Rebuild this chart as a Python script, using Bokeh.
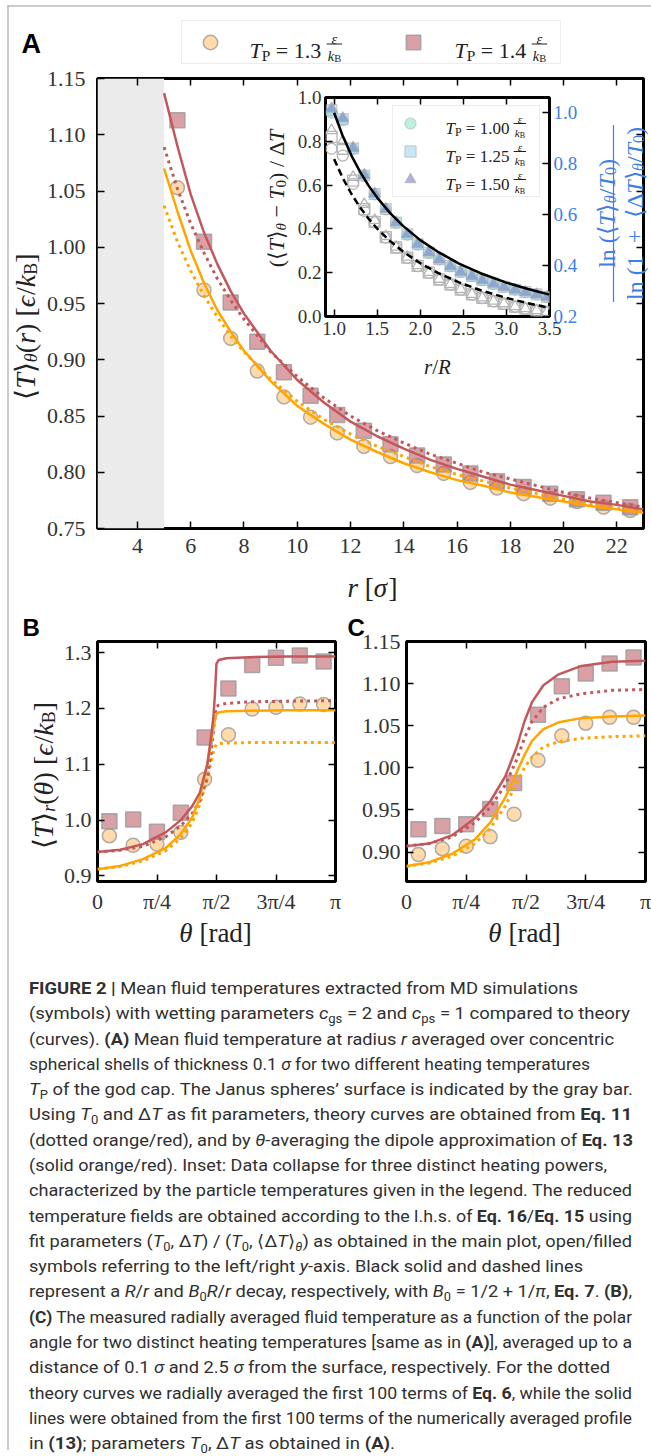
import math
from bokeh.plotting import figure
from bokeh.models import (Range1d, LinearAxis, FixedTicker, Label, Legend, LegendItem,
                          BoxAnnotation, Div)
from bokeh.layouts import column, row
from bokeh.embed import file_html
from bokeh.resources import INLINE

PI = math.pi
NAN = float("nan")
SERIF = "Liberation Serif"
SANS = "Liberation Sans"
ORANGE = "#ffa500"
RED = "#c2585c"
CIRC_FILL = "#ffc880"
SQ_FILL = "#c0606a"
EDGE = "#9a9a9a"
BLUE = "#3d7fe6"
TXT = "#222222"

# ---------------- data: panel A ----------------
r_sim = [5.5, 6.5, 7.5, 8.5, 9.5, 10.5, 11.5, 12.5, 13.5, 14.5, 15.5, 16.5, 17.5, 18.5, 19.5, 20.5, 21.5, 22.5]
T_sim_13 = [1.053, 0.962, 0.919, 0.890, 0.867, 0.849, 0.835, 0.823, 0.814, 0.806, 0.799, 0.791, 0.786, 0.781, 0.777, 0.774, 0.769, 0.766]
T_sim_14 = [1.113, 1.005, 0.951, 0.916, 0.889, 0.868, 0.851, 0.837, 0.825, 0.815, 0.807, 0.799, 0.792, 0.787, 0.781, 0.776, 0.773, 0.769]

r_theory = [5.0, 5.5, 6.0, 6.5, 7.0, 7.5, 8.0, 9.0, 10.0, 11.0, 12.0, 13.0, 14.0, 15.0, 16.0, 17.0, 18.0, 19.0, 20.0, 21.0, 22.0, 23.0]
T14_solid = [1.137, 1.090, 1.047, 1.013, 0.985, 0.961, 0.941, 0.908, 0.882, 0.862, 0.845, 0.832, 0.821, 0.811, 0.803, 0.796, 0.789, 0.784, 0.779, 0.774, 0.771, 0.767]
T14_dotted = [1.089, 1.052, 1.021, 0.995, 0.972, 0.953, 0.936, 0.907, 0.885, 0.866, 0.850, 0.837, 0.826, 0.816, 0.808, 0.800, 0.794, 0.788, 0.782, 0.777, 0.773, 0.769]
T13_solid = [1.070, 1.032, 0.997, 0.968, 0.944, 0.925, 0.908, 0.881, 0.859, 0.843, 0.829, 0.818, 0.808, 0.800, 0.793, 0.788, 0.782, 0.778, 0.774, 0.770, 0.767, 0.764]
T13_dotted = [1.037, 1.005, 0.979, 0.957, 0.938, 0.921, 0.907, 0.883, 0.863, 0.847, 0.834, 0.823, 0.814, 0.805, 0.798, 0.792, 0.786, 0.781, 0.776, 0.772, 0.768, 0.765]
surface_band = [2.5, 5.0]

A_xticks = [4, 6, 8, 10, 12, 14, 16, 18, 20, 22]
A_yticks = [0.75, 0.80, 0.85, 0.90, 0.95, 1.00, 1.05, 1.10, 1.15]

# ---------------- data: inset ----------------
x_inset = [0.97, 1.1, 1.22, 1.35, 1.47, 1.6, 1.72, 1.85, 1.97, 2.1, 2.22, 2.35, 2.47, 2.6, 2.72, 2.85, 2.97, 3.1, 3.22, 3.35, 3.47]
filled_100 = [1.000, 0.970, 0.858, 0.752, 0.679, 0.620, 0.567, 0.521, 0.482, 0.449, 0.423, 0.397, 0.375, 0.358, 0.342, 0.328, 0.316, 0.305, 0.295, 0.286, 0.276]
filled_125 = [1.010, 0.975, 0.860, 0.754, 0.681, 0.622, 0.569, 0.523, 0.484, 0.451, 0.425, 0.398, 0.376, 0.359, 0.343, 0.329, 0.317, 0.306, 0.296, 0.287, 0.277]
filled_150 = [1.016, 0.978, 0.862, 0.755, 0.682, 0.622, 0.569, 0.523, 0.484, 0.451, 0.424, 0.397, 0.375, 0.358, 0.342, 0.328, 0.316, 0.305, 0.295, 0.286, 0.276]
open_100 = [0.766, 0.735, 0.605, 0.482, 0.430, 0.360, 0.314, 0.268, 0.230, 0.199, 0.168, 0.145, 0.122, 0.100, 0.084, 0.069, 0.057, 0.044, 0.035, 0.026, 0.018]
open_125 = [0.820, 0.766, 0.620, 0.490, 0.432, 0.362, 0.315, 0.269, 0.231, 0.200, 0.169, 0.146, 0.123, 0.101, 0.085, 0.070, 0.058, 0.045, 0.036, 0.027, 0.019]
open_150 = [0.850, 0.800, 0.636, 0.513, 0.440, 0.366, 0.318, 0.272, 0.233, 0.202, 0.171, 0.147, 0.124, 0.102, 0.086, 0.071, 0.059, 0.046, 0.037, 0.028, 0.020]
x_decay = [1.0, 1.1, 1.2, 1.3, 1.4, 1.5, 1.65, 1.8, 2.0, 2.2, 2.45, 2.7, 3.0, 3.25, 3.5]
R_over_r = [1.0, 0.909, 0.833, 0.769, 0.714, 0.667, 0.606, 0.556, 0.5, 0.455, 0.408, 0.370, 0.333, 0.308, 0.286]
B0R_over_r = [0.818, 0.744, 0.682, 0.629, 0.584, 0.545, 0.496, 0.455, 0.409, 0.372, 0.334, 0.303, 0.273, 0.252, 0.234]
inset_xticks = [1.0, 1.5, 2.0, 2.5, 3.0, 3.5]
inset_lticks = [0.0, 0.2, 0.4, 0.6, 0.8, 1.0]
inset_rticks = [0.2, 0.4, 0.6, 0.8, 1.0]

# ---------------- data: panels B, C ----------------
theta_sim = [0.157, 0.471, 0.785, 1.100, 1.414, 1.728, 2.042, 2.356, 2.670, 2.985]
B_13 = [0.972, 0.955, 0.957, 0.978, 1.073, 1.153, 1.199, 1.202, 1.208, 1.207]
B_14 = [0.998, 1.001, 0.979, 1.013, 1.148, 1.236, 1.278, 1.291, 1.295, 1.284]
C_13 = [0.897, 0.904, 0.907, 0.918, 0.945, 1.009, 1.038, 1.053, 1.060, 1.060]
C_14 = [0.927, 0.931, 0.933, 0.951, 0.982, 1.063, 1.097, 1.112, 1.124, 1.131]

theta_B = [0.0, 0.3, 0.6, 0.9, 1.1, 1.25, 1.35, 1.45, 1.5, 1.53, 1.55, 1.57, 1.6, 1.7, 2.0, 2.5, 3.1416]
B14_solid = [0.943, 0.947, 0.957, 0.978, 1.000, 1.025, 1.049, 1.100, 1.150, 1.185, 1.225, 1.280, 1.287, 1.290, 1.292, 1.293, 1.293]
B14_dotted = [0.943, 0.946, 0.953, 0.970, 0.990, 1.012, 1.035, 1.075, 1.120, 1.160, 1.185, 1.203, 1.206, 1.209, 1.212, 1.213, 1.214]
B13_solid = [0.912, 0.918, 0.930, 0.950, 0.975, 1.005, 1.040, 1.100, 1.140, 1.165, 1.180, 1.190, 1.193, 1.195, 1.196, 1.197, 1.197]
B13_dotted = [0.912, 0.917, 0.927, 0.945, 0.968, 0.995, 1.028, 1.075, 1.105, 1.122, 1.131, 1.136, 1.137, 1.138, 1.139, 1.139, 1.139]

theta_C = [0.0, 0.3, 0.6, 0.9, 1.1, 1.3, 1.45, 1.55, 1.65, 1.8, 2.0, 2.3, 2.7, 3.1416]
C14_solid = [0.907, 0.910, 0.920, 0.940, 0.960, 0.990, 1.025, 1.055, 1.078, 1.098, 1.111, 1.121, 1.126, 1.127]
C14_dotted = [0.907, 0.910, 0.918, 0.935, 0.953, 0.980, 1.010, 1.035, 1.055, 1.072, 1.082, 1.088, 1.092, 1.093]
C13_solid = [0.883, 0.888, 0.898, 0.915, 0.935, 0.965, 0.995, 1.015, 1.032, 1.046, 1.054, 1.059, 1.061, 1.062]
C13_dotted = [0.883, 0.887, 0.895, 0.910, 0.928, 0.955, 0.982, 1.000, 1.013, 1.025, 1.031, 1.035, 1.037, 1.038]

theta_ticks = [0.0, PI / 4, PI / 2, 3 * PI / 4, PI]
theta_labels = ["0", "π/4", "π/2", "3π/4", "π"]
B_yticks = [0.9, 1.0, 1.1, 1.2, 1.3]
C_yticks = [0.90, 0.95, 1.00, 1.05, 1.10, 1.15]

# ---------------- text metrics helpers ----------------
W_REG = {' ': 250, '(': 333, ')': 333, '[': 333, ']': 333, '/': 278, '.': 250, '=': 564, '+': 564,
         '−': 564, ',': 250, '⟨': 390, '⟩': 390, 'ϵ': 440, 'θ': 500, 'σ': 550, 'Δ': 612, 'π': 550,
         'l': 278, 'n': 500, 'r': 333, 'a': 444, 'd': 500, 'P': 556, 'B': 667, 'R': 667, 'T': 611, 'k': 500}
W_IT = {'T': 556, 'r': 389, 'k': 444, 'R': 611, 'B': 611, 'θ': 500, 'ϵ': 440, 'σ': 550}


def text_width(s, size, italic=False):
    tot = 0
    for ch in s:
        if italic and ch in W_IT:
            tot += W_IT[ch]
        else:
            tot += W_REG.get(ch, 500)
    return tot * size / 1000.0


# ---------------- plot helpers ----------------
def style_axis(ax, ticks, labels, fs, show=True, color="#333333", standoff=8):
    ax.ticker = FixedTicker(ticks=ticks, minor_ticks=[])
    ax.major_label_overrides = {t: (l if show else "") for t, l in zip(ticks, labels)}
    ax.major_tick_in = 7
    ax.major_tick_out = 0
    ax.major_tick_line_color = "black"
    ax.major_tick_line_width = 1.5
    ax.minor_tick_line_color = None
    ax.axis_line_color = None
    ax.major_label_standoff = standoff if show else 0
    ax.major_label_text_font = SERIF
    ax.major_label_text_font_size = fs
    ax.major_label_text_color = color


def make_fig(w, h, xr, yr, bl, br, bt, bb, **kw):
    p = figure(width=w, height=h, x_range=Range1d(*xr), y_range=Range1d(*yr),
               output_backend="svg", toolbar_location=None,
               min_border_left=bl, min_border_right=br, min_border_top=bt, min_border_bottom=bb, **kw)
    p.grid.visible = False
    p.outline_line_color = "black"
    p.outline_line_width = 3
    p.outline_line_alpha = 1
    p.background_fill_color = "white"
    return p


def four_axes(p, xt, xl, yt, yl, fs, xs=8, ys=8):
    style_axis(p.xaxis[0], xt, xl, fs, standoff=xs)
    style_axis(p.yaxis[0], yt, yl, fs, standoff=ys)
    top = LinearAxis()
    style_axis(top, xt, xl, fs, show=False)
    p.add_layout(top, "above")
    rgt = LinearAxis()
    style_axis(rgt, yt, yl, fs, show=False)
    p.add_layout(rgt, "right")


CIRC_STYLE = dict(marker="circle", size=14, fill_color=CIRC_FILL, fill_alpha=0.65,
                  line_color=EDGE, line_alpha=0.8, line_width=1.5)
SQ_STYLE = dict(marker="square", size=15, fill_color=SQ_FILL, fill_alpha=0.6,
                line_color=EDGE, line_alpha=0.8, line_width=1.5)
F100_STYLE = dict(marker="circle", size=11, fill_color="#8fe8cc", fill_alpha=0.6, line_color="#aaaaaa", line_alpha=0.6)
F125_STYLE = dict(marker="square", size=11, fill_color="#9fd6ea", fill_alpha=0.6, line_color="#aaaaaa", line_alpha=0.6)
F150_STYLE = dict(marker="triangle", size=12, fill_color="#7b7fc4", fill_alpha=0.6, line_color="#aaaaaa", line_alpha=0.6)


def add_curves(p, xs, o_dot, r_dot, o_sol, r_sol):
    p.line(xs, o_dot, color=ORANGE, line_width=3, line_dash="3 4")
    p.line(xs, r_dot, color=RED, line_width=3, line_dash="3 4")
    p.line(xs, o_sol, color=ORANGE, line_width=2.5)
    p.line(xs, r_sol, color=RED, line_width=2.5)


# ================= Panel A (page origin 0,0) =================
pA = make_fig(651, 598, (2.5, 23), (0.75, 1.15), 97, 8, 78, 70)
four_axes(pA, A_xticks, [str(t) for t in A_xticks], A_yticks, [f"{t:.2f}" for t in A_yticks],
          "22px", xs=10, ys=12)
pA.add_layout(BoxAnnotation(left=surface_band[0], right=surface_band[1], fill_color="#ebebeb",
                            fill_alpha=1, line_color=None, level="underlay"))
pA.scatter(r_sim, T_sim_13, **CIRC_STYLE)
pA.scatter(r_sim, T_sim_14, **SQ_STYLE)
add_curves(pA, r_theory, T13_dotted, T14_dotted, T13_solid, T14_solid)

# ================= Inset =================
pI = make_fig(325, 265, (0.9, 3.5), (0.0, 1.0), 60, 41, 12, 34)
pI.border_fill_color = None
pI.extra_y_ranges = {"right": Range1d(0.2, 1.06)}
style_axis(pI.xaxis[0], inset_xticks, [f"{t:.1f}" for t in inset_xticks], "19px", standoff=5)
style_axis(pI.yaxis[0], inset_lticks, [f"{t:.1f}" for t in inset_lticks], "19px", standoff=4)
tI = LinearAxis()
style_axis(tI, inset_xticks, [f"{t:.1f}" for t in inset_xticks], "19px", show=False)
pI.add_layout(tI, "above")
rI = LinearAxis(y_range_name="right")
style_axis(rI, inset_rticks, [f"{t:.1f}" for t in inset_rticks], "19px", color=BLUE, standoff=4)
pI.add_layout(rI, "right")
for yv, mk in ((open_100, "circle"), (open_125, "square"), (open_150, "triangle")):
    pI.scatter(x_inset, yv, marker=mk, size=11, fill_color="white", fill_alpha=0.0,
               line_color="#b5b5b5", line_width=1.3)
pI.scatter(x_inset, filled_100, y_range_name="right", **F100_STYLE)
pI.scatter(x_inset, filled_125, y_range_name="right", **F125_STYLE)
pI.scatter(x_inset, filled_150, y_range_name="right", **F150_STYLE)
pI.line(x_decay, R_over_r, color="black", line_width=2.5, y_range_name="right")
pI.line(x_decay, B0R_over_r, color="black", line_width=2.5, line_dash="7 4", y_range_name="right")

# ================= Panel B =================
pB = make_fig(345, 372, (0, PI), (0.89, 1.32), 97, 10, 43, 89)
four_axes(pB, theta_ticks, theta_labels, B_yticks, [f"{t:.1f}" for t in B_yticks], "22px", xs=7, ys=6)
pB.scatter(theta_sim, B_13, **CIRC_STYLE)
pB.scatter(theta_sim, B_14, **SQ_STYLE)
add_curves(pB, theta_B, B13_dotted, B14_dotted, B13_solid, B14_solid)

# ================= Panel C =================
pC = make_fig(306, 372, (0, PI), (0.865, 1.15), 61, 6, 43, 89)
four_axes(pC, theta_ticks, theta_labels, C_yticks, [f"{t:.2f}" for t in C_yticks], "22px", xs=7, ys=6)
pC.scatter(theta_sim, C_13, **CIRC_STYLE)
pC.scatter(theta_sim, C_14, **SQ_STYLE)
add_curves(pC, theta_C, C13_dotted, C14_dotted, C13_solid, C14_solid)


# ================= Overlays (page pixel coordinates) =================
OVH = 1450


def overlay():
    o = figure(width=651, height=OVH, x_range=Range1d(0, 651), y_range=Range1d(OVH, 0),
               x_axis_type=None, y_axis_type=None, output_backend="svg", toolbar_location=None,
               min_border_left=0, min_border_right=0, min_border_top=0, min_border_bottom=0)
    o.outline_line_color = None
    o.background_fill_color = None
    o.border_fill_color = None
    return o


ovL = overlay()   # legends + rules
ovT = overlay()   # all texts


def T(x, y, text, size=20, font=SERIF, style="normal", color=TXT, align="left", angle=0.0):
    ovT.add_layout(Label(x=x, y=y, text=text, text_font=font, text_font_size=f"{size:.1f}px",
                         text_font_style=style, text_color=color, text_align=align,
                         text_baseline="alphabetic", angle=angle))


def BAR(x0, x1, y0, y1, color, target=None):
    (target or ovT).add_layout(BoxAnnotation(left=x0, right=x1, top=y0, bottom=y1, fill_color=color,
                                             fill_alpha=1, line_color=None))


def piece(x, y, t, s, it, angle, color, pos):
    lead = len(t) - len(t.lstrip(" "))
    core = t.strip(" ")
    off = text_width(" " * lead, s)
    if core:
        if angle == 0.0:
            T(x + pos + off, y, core, size=s, style="italic" if it else "normal", color=color)
        else:
            T(x, y - pos - off, core, size=s, style="italic" if it else "normal", color=color, angle=angle)


def seq(cx, cy, pieces, angle=0.0, color=TXT):
    widths = [text_width(t, s, it) for t, s, it, dy in pieces]
    total = sum(widths)
    pos = -total / 2
    for (t, s, it, dy), w in zip(pieces, widths):
        if angle == 0.0:
            piece(cx, cy + dy, t, s, it, angle, color, pos)
        else:
            piece(cx + dy, cy, t, s, it, angle, color, pos)
        pos += w
    return total


def math_label(x, base, num, s, color=TXT):
    pieces = [("T", s, True, 0), ("P", 0.7 * s, False, 0.22 * s), (" = " + num + " ", s, False, 0)]
    pos = 0
    for t, sz, it, dy in pieces:
        piece(x, base + dy, t, sz, it, 0.0, color, pos)
        pos += text_width(t, sz, it)
    fs = 0.66 * s
    fw = text_width("k", fs, True) + text_width("B", 0.72 * fs)
    xc = x + pos + fw / 2 + 1
    ybar = base - 0.30 * s
    BAR(xc - fw / 2 - 1, xc + fw / 2 + 1, ybar - 0.5, ybar + 0.5, color)
    T(xc, ybar - 4.5, "ε", size=fs, style="italic", align="center", color=color)
    T(xc - fw / 2, ybar + 0.70 * fs + 2, "k", size=fs, style="italic", color=color)
    T(xc - fw / 2 + text_width("k", fs, True), ybar + 0.70 * fs + 4, "B", size=0.72 * fs, color=color)


# page border rules
BAR(7, 8, 5, OVH, "#9a9a9a", ovL)
BAR(7, 651, 5, 6, "#9a9a9a", ovL)

# legends (proxy renderers hold a single NaN point: nothing drawn on the canvas)
lc = ovL.scatter([NAN], [NAN], **CIRC_STYLE)
ls = ovL.scatter([NAN], [NAN], **SQ_STYLE)
legA = Legend(items=[LegendItem(label=" ", renderers=[lc]), LegendItem(label=" ", renderers=[ls])],
              orientation="horizontal", location=(181, OVH - 64), padding=3, spacing=34,
              glyph_width=50, glyph_height=36, label_standoff=15, label_width=104, label_height=10,
              label_text_font_size="1px", border_line_color="#d9d9d9", border_line_width=1,
              background_fill_color="white", background_fill_alpha=1, margin=0)
ovL.add_layout(legA, "center")
l1 = ovL.scatter([NAN], [NAN], **F100_STYLE)
l2 = ovL.scatter([NAN], [NAN], **F125_STYLE)
l3 = ovL.scatter([NAN], [NAN], **F150_STYLE)
legI = Legend(items=[LegendItem(label=" ", renderers=[l1]), LegendItem(label=" ", renderers=[l2]),
                     LegendItem(label=" ", renderers=[l3])],
              location=(392, OVH - 197), padding=3, spacing=0, glyph_width=28, glyph_height=28,
              label_standoff=14, label_width=98, label_height=10, label_text_font_size="1px",
              border_line_color="#d9d9d9", border_line_width=1, background_fill_color="white",
              background_fill_alpha=0.92, margin=0)
ovL.add_layout(legI, "center")

math_label(249, 50, "1.3", 22)
math_label(454, 50, "1.4", 22)
math_label(445, 128, "1.00", 17)
math_label(445, 156, "1.25", 17)
math_label(445, 184, "1.50", 17)

# panel letters
T(21, 43, "A", size=27, font=SANS, style="bold", color="black")
T(22, 627, "B", size=24, font=SANS, style="bold", color="black")
T(347, 627, "C", size=24, font=SANS, style="bold", color="black")

# axis labels
seq(25, 326, [("⟨", 28, False, 0), ("T", 28, True, 0), ("⟩", 28, False, 0), ("θ", 18, True, 5),
              ("(", 28, False, 0), ("r", 28, True, 0), (")", 28, False, 0), (" [", 28, False, 0),
              ("ϵ", 28, True, 0), ("/", 28, False, 0), ("k", 28, True, 0), ("B", 18, False, 5),
              ("]", 28, False, 0)], angle=PI / 2)
seq(372, 587, [("r", 27, True, 0), (" [", 27, False, 0), ("σ", 27, True, 0), ("]", 27, False, 0)])
seq(437, 366, [("r", 21, True, 0), ("/", 21, False, 0), ("R", 21, True, 0)])
seq(276, 198, [("(", 22, False, 0), ("⟨", 22, False, 0), ("T", 22, True, 0), ("⟩", 22, False, 0),
               ("θ", 15, True, 4), (" − ", 22, False, 0), ("T", 22, True, 0), ("0", 15, False, 4),
               (")", 22, False, 0), (" / ", 22, False, 0), ("Δ", 22, False, 0), ("T", 22, True, 0)],
    angle=PI / 2)
seq(606, 213, [("ln", 24, False, 0), (" (", 24, False, 0), ("⟨", 24, False, 0), ("T", 24, True, 0),
               ("⟩", 24, False, 0), ("θ", 16, True, 4), ("/", 24, False, 0), ("T", 24, True, 0),
               ("0", 16, False, 4), (")", 24, False, 0)], angle=PI / 2, color=BLUE)
wd = seq(634, 213, [("ln", 24, False, 0), (" (1", 24, False, 0), ("  +  ", 24, False, 0),
                    ("⟨", 24, False, 0), ("Δ", 24, False, 0), ("T", 24, True, 0), ("⟩", 24, False, 0),
                    ("θ", 16, True, 4), ("/", 24, False, 0), ("T", 24, True, 0), ("0", 16, False, 4),
                    (")", 24, False, 0)], angle=PI / 2, color=BLUE)
BAR(612.4, 613.6, 213 - wd / 2 - 2, 213 + wd / 2 + 2, BLUE)
seq(43, 775, [("⟨", 28, False, 0), ("T", 28, True, 0), ("⟩", 28, False, 0), ("r", 18, True, 5),
              ("(", 28, False, 0), ("θ", 28, True, 0), (")", 28, False, 0), (" [", 28, False, 0),
              ("ϵ", 28, True, 0), ("/", 28, False, 0), ("k", 28, True, 0), ("B", 18, False, 5),
              ("]", 28, False, 0)], angle=PI / 2)
seq(215, 932, [("θ", 27, True, 0), (" [rad]", 27, False, 0)])
seq(524, 932, [("θ", 27, True, 0), (" [rad]", 27, False, 0)])

# ================= Caption (SVG text lines, fixed extents) =================
cap_lines = [
    [("FIGURE 2 |", "b"), (" Mean fluid temperatures extracted from MD simulations", "")],
    [("(symbols) with wetting parameters ", ""), ("c", "i"), ("gs", "s"), (" = 2 and ", ""), ("c", "i"), ("ps", "s"), (" = 1 compared to theory", "")],
    [("(curves). ", ""), ("(A)", "b"), (" Mean fluid temperature at radius ", ""), ("r", "i"), (" averaged over concentric", "")],
    [("spherical shells of thickness 0.1 ", ""), ("σ", "i"), (" for two different heating temperatures", "")],
    [("T", "i"), ("P", "s"), (" of the god cap. The Janus spheres’ surface is indicated by the gray bar.", "")],
    [("Using ", ""), ("T", "i"), ("0", "s"), (" and Δ", ""), ("T", "i"), (" as fit parameters, theory curves are obtained from ", ""), ("Eq. 11", "b")],
    [("(dotted orange/red), and by ", ""), ("θ", "i"), ("-averaging the dipole approximation of ", ""), ("Eq. 13", "b")],
    [("(solid orange/red). Inset: Data collapse for three distinct heating powers,", "")],
    [("characterized by the particle temperatures given in the legend. The reduced", "")],
    [("temperature fields are obtained according to the l.h.s. of ", ""), ("Eq. 16", "b"), ("/", ""), ("Eq. 15", "b"), (" using", "")],
    [("fit parameters (", ""), ("T", "i"), ("0", "s"), (", Δ", ""), ("T", "i"), (") / (", ""), ("T", "i"), ("0", "s"), (", ⟨Δ", ""), ("T", "i"), ("⟩", ""), ("θ", "si"), (") as obtained in the main plot, open/filled", "")],
    [("symbols referring to the left/right ", ""), ("y", "i"), ("-axis. Black solid and dashed lines", "")],
    [("represent a ", ""), ("R", "i"), ("/", ""), ("r", "i"), (" and ", ""), ("B", "i"), ("0", "s"), ("R", "i"), ("/", ""), ("r", "i"), (" decay, respectively, with ", ""), ("B", "i"), ("0", "s"), (" = 1/2 + 1/", ""), ("π", "i"), (", ", ""), ("Eq. 7", "b"), (". ", ""), ("(B)", "b"), (",", "")],
    [("(C)", "b"), (" The measured radially averaged fluid temperature as a function of the polar", "")],
    [("angle for two distinct heating temperatures [same as in ", ""), ("(A)", "b"), ("], averaged up to a", "")],
    [("distance of 0.1 ", ""), ("σ", "i"), (" and 2.5 ", ""), ("σ", "i"), (" from the surface, respectively. For the dotted", "")],
    [("theory curves we radially averaged the first 100 terms of ", ""), ("Eq. 6", "b"), (", while the solid", "")],
    [("lines were obtained from the first 100 terms of the numerically averaged profile", "")],
    [("in ", ""), ("(13)", "b"), ("; parameters ", ""), ("T", "i"), ("0", "s"), (", Δ", ""), ("T", "i"), (" as obtained in ", ""), ("(A)", "b"), (".", "")],
]
cap_widths = [549, 601, 585, 561, 604, 603, 604, 578, 603, 603, 603, 554, 603, 603, 603, 581, 603, 603, 366]

CAP_TOP = 970
CAP_H = 484
svg = [f'<svg xmlns="http://www.w3.org/2000/svg" width="651" height="{CAP_H}" '
       'style="display:block;font-family:Roboto, \'Liberation Sans\', sans-serif;font-size:17px;fill:#303030">']
for k, (segs, wdt) in enumerate(zip(cap_lines, cap_widths)):
    base = 989.0 + 25.28 * k - CAP_TOP
    parts = []
    shift = 0
    for txt, st in segs:
        attrs = []
        if "s" in st:
            dy = 4 - shift
            shift = 4
            attrs.append('font-size="12"')
        else:
            dy = -shift
            shift = 0
        if dy:
            attrs.append(f'dy="{dy}"')
        if "b" in st:
            attrs.append('font-weight="700"')
        if "i" in st:
            attrs.append('font-style="italic"')
        parts.append(f'<tspan {" ".join(attrs)}>{txt}</tspan>')
    svg.append(f'<text x="24" y="{base:.1f}" textLength="{wdt}" lengthAdjust="spacingAndGlyphs" '
               f'style="white-space:pre">{"".join(parts)}</text>')
svg.append("</svg>")
cap = Div(text="".join(svg), width=651, height=CAP_H)

layout = column(
    row(ovT, margin=(0, 0, -OVH, 0), styles={"position": "relative", "z-index": "30"}),
    row(ovL, margin=(0, 0, -OVH, 0), styles={"position": "relative", "z-index": "20"}),
    row(pI, margin=(85, 0, -350, 265), styles={"position": "relative", "z-index": "10"}),
    pA,
    row(pB, pC),
    cap,
)

open("out.html", "w").write(file_html(layout, INLINE))
